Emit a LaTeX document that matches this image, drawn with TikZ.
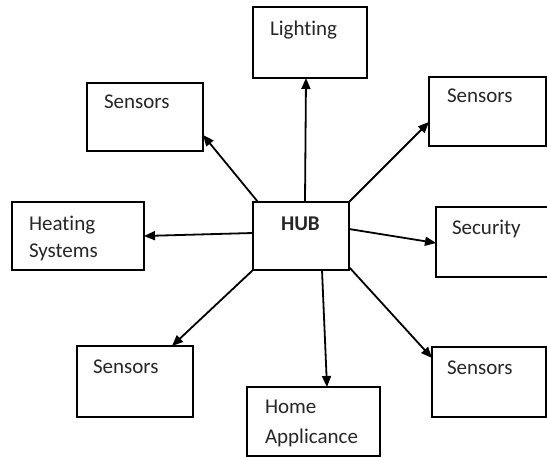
\documentclass[tikz,border=0pt]{standalone}
\usepackage{fontspec}
\setmainfont{Carlito}[Ligatures=NoCommon]
\usetikzlibrary{arrows.meta}
\begin{document}
\begin{tikzpicture}[x=1pt,y=-1pt,
  box/.style={draw=black,line width=2.4pt,rectangle,inner sep=0pt,outer sep=0pt},
  txt/.style={inner sep=0pt,outer sep=0pt,anchor=base west,font=\fontsize{21}{24}\selectfont,text=black!85},
  conn/.style={line width=1.8pt,-{Triangle[length=11pt,width=9pt]}}]
\useasboundingbox (0,0) rectangle (547,457);
\fill[white] (0,0) rectangle (547,457);
% boxes
\node[box,minimum width=114pt,minimum height=71pt] (light) at (310,42.5) {};
\node[box,minimum width=116pt,minimum height=68pt] (stl) at (145,117) {};
\node[box,minimum width=117pt,minimum height=69pt] (str) at (487.5,111.5) {};
\node[box,minimum width=132pt,minimum height=68pt] (heat) at (78,236) {};
\node[box,minimum width=96pt,minimum height=68pt] (hub) at (301,236) {};
\node[box,minimum width=124pt,minimum height=70pt] (sec) at (498,242) {};
\node[box,minimum width=116pt,minimum height=71pt] (sbl) at (135,381.5) {};
\node[box,minimum width=114pt,minimum height=70pt] (sbr) at (489,382) {};
\node[box,minimum width=133pt,minimum height=69pt] (home) at (313.5,421.5) {};
% texts
\node[txt] (tlight) at (270,36) {Lighting};
\node[txt] (tstl) at (104,109) {Sensors};
\node[txt] (tstr) at (447,103) {Sensors};
\node[txt] (theat1) at (29,231) {Heating};
\node[txt] (theat2) at (29,258) {Systems};
\node[txt,font=\fontsize{21}{24}\selectfont\bfseries] (thub) at (281,231) {HUB};
\node[txt] (tsec) at (452,235) {Security};
\node[txt] (tsbl) at (93,374) {Sensors};
\node[txt] (tsbr) at (447,375) {Sensors};
\node[txt] (thome1) at (265,414) {Home};
\node[txt] (thome2) at (265,443) {Applicance};
% connectors
\draw[conn] ([xshift=4pt]hub.north) -- ([xshift=-4pt]light.south);
\draw[conn] ([xshift=5pt]hub.north west) -- ([yshift=16pt]stl.south east);
\draw[conn] (hub.north east) -- ([yshift=24pt]str.south west);
\draw[conn] ([yshift=3pt]hub.west) -- (heat.east);
\draw[conn] ([yshift=7pt]hub.east) -- ([yshift=-1pt]sec.west);
\draw[conn] (hub.south west) -- ([xshift=-21pt]sbl.north east);
\draw[conn] ([xshift=21pt]hub.south) -- ([xshift=13.5pt]home.north);
\draw[conn] ([yshift=3pt]hub.south east) -- ([yshift=-11pt]sbr.north west);
\end{tikzpicture}
\end{document}
